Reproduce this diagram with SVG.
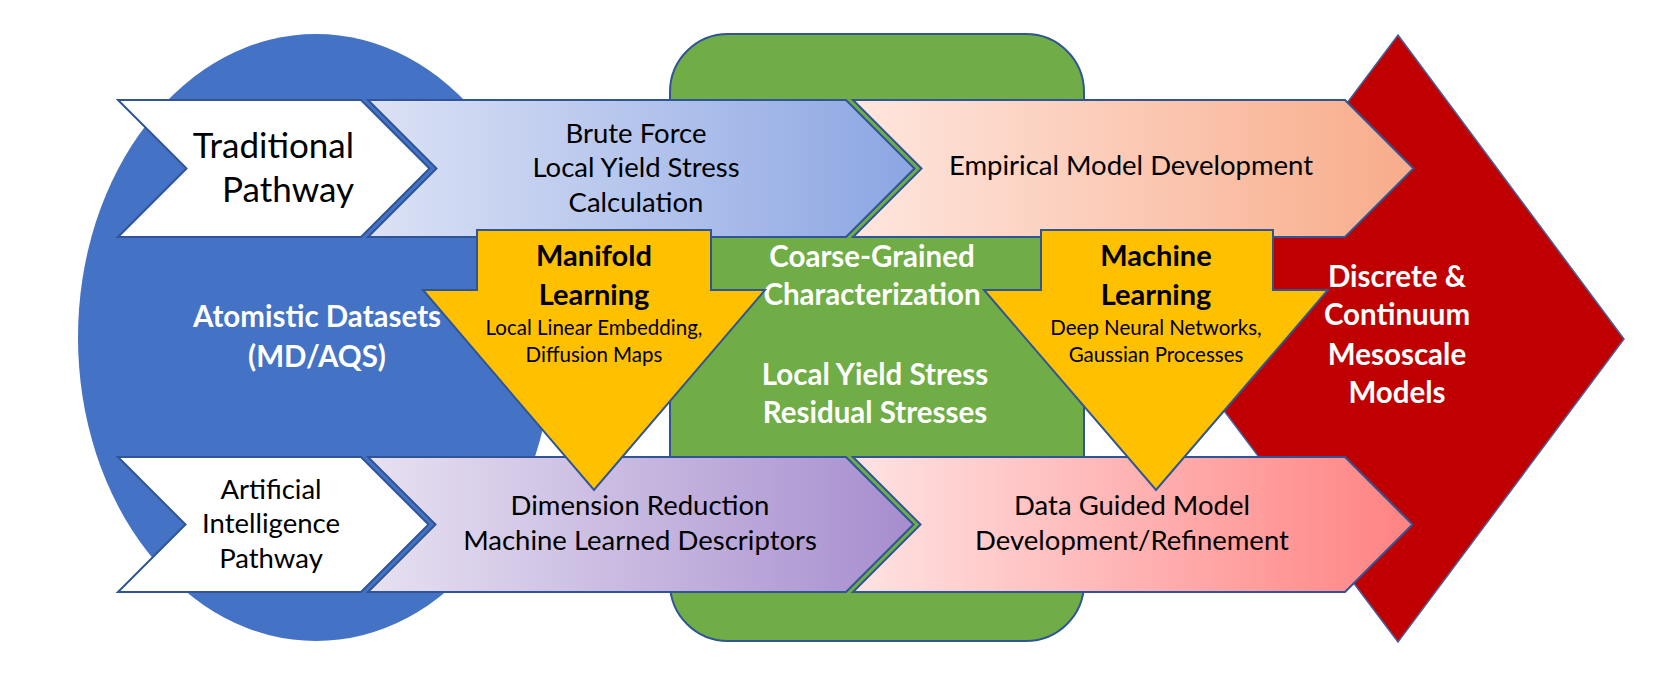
<svg xmlns="http://www.w3.org/2000/svg" width="1670" height="678" viewBox="0 0 1670 678">
<defs>
<linearGradient id="gTop2" x1="0" y1="0" x2="1" y2="0"><stop offset="0" stop-color="#DCE2F5"/><stop offset="1" stop-color="#8CA6E3"/></linearGradient>
<linearGradient id="gTop3" x1="0" y1="0" x2="1" y2="0"><stop offset="0" stop-color="#FEE6DE"/><stop offset="1" stop-color="#F8AC8A"/></linearGradient>
<linearGradient id="gBot2" x1="0" y1="0" x2="1" y2="0"><stop offset="0" stop-color="#E7E1F1"/><stop offset="1" stop-color="#A68DCE"/></linearGradient>
<linearGradient id="gBot3" x1="0" y1="0" x2="1" y2="0"><stop offset="0" stop-color="#FFE3E3"/><stop offset="1" stop-color="#FF8282"/></linearGradient>
</defs>
<style>
.edge{stroke:#2F5597;stroke-width:2;stroke-linejoin:miter}
.t{font-family:Lato,"Liberation Sans",sans-serif;text-anchor:middle;fill:#000}
.w{font-family:Lato,"Liberation Sans",sans-serif;text-anchor:middle;fill:#fff;font-weight:bold;font-size:29.5px}
.b{font-size:27.5px}
.h{font-weight:bold;font-size:29px}
.s{font-size:20.5px}
</style>
<rect width="1670" height="678" fill="#fff"/>
<g id="atomistic">
<ellipse cx="316" cy="337.5" rx="238" ry="303.5" fill="#4472C4"/>
<text class="w" x="317" y="327">Atomistic Datasets</text>
<text class="w" x="317" y="367">(MD/AQS)</text>
</g>
<g id="coarse-grained">
<rect x="670" y="34" width="414" height="607" rx="58" ry="58" fill="#70AD47" class="edge" stroke-width="1.5"/>
</g>
<g id="mesoscale">
<polygon points="1398,35 1624,339 1398,642 1170,339" fill="#C00000" stroke="#44649E" stroke-width="1.5"/>
</g>
<g id="traditional-pathway">
<polygon class="edge" fill="#fff" points="118,100 361,100 429.5,168.5 361,237 118,237 186.5,168.5"/>
<text class="t" style="text-anchor:end;font-size:35px" x="354" y="158">Traditional</text>
<text class="t" style="text-anchor:end;font-size:35px" x="354" y="202">Pathway</text>
</g>
<g id="brute-force">
<polygon class="edge" fill="url(#gTop2)" points="368,100 846,100 914.5,168.5 846,237 368,237 436.5,168.5"/>
<text class="t b" x="636" y="143">Brute Force</text>
<text class="t b" x="636" y="177">Local Yield Stress</text>
<text class="t b" x="636" y="212">Calculation</text>
</g>
<g id="empirical">
<polygon class="edge" fill="url(#gTop3)" points="853,100 1345,100 1413.5,168.5 1345,237 853,237 921.5,168.5"/>
<text class="t b" x="1131" y="175">Empirical Model Development</text>
</g>
<g id="ai-pathway">
<polygon class="edge" fill="#fff" points="118,457 361,457 428.5,524.5 361,592 118,592 185.5,524.5"/>
<text class="t b" x="271" y="499">Artificial</text>
<text class="t b" x="271" y="533">Intelligence</text>
<text class="t b" x="271" y="568">Pathway</text>
</g>
<g id="dimension-reduction">
<polygon class="edge" fill="url(#gBot2)" points="368,457 846,457 913.5,524.5 846,592 368,592 435.5,524.5"/>
<text class="t b" x="640" y="515">Dimension Reduction</text>
<text class="t b" x="640" y="550">Machine Learned Descriptors</text>
</g>
<g id="data-guided">
<polygon class="edge" fill="url(#gBot3)" points="853,457 1345,457 1412.5,524.5 1345,592 853,592 920.5,524.5"/>
<text class="t b" x="1132" y="515">Data Guided Model</text>
<text class="t b" x="1132" y="550">Development/Refinement</text>
</g>
<g id="coarse-grained-labels">
<text class="w" x="872" y="267">Coarse-Grained</text>
<text class="w" x="872" y="305">Characterization</text>
<text class="w" x="875" y="385">Local Yield Stress</text>
<text class="w" x="875" y="423">Residual Stresses</text>
</g>
<g id="mesoscale-labels">
<text class="w" x="1397" y="287">Discrete &amp;</text>
<text class="w" x="1397" y="325">Continuum</text>
<text class="w" x="1397" y="365">Mesoscale</text>
<text class="w" x="1397" y="403">Models</text>
</g>
<g id="manifold-learning">
<polygon class="edge" fill="#FFC000" points="477,230 711,230 711,290 765,290 594,490 423,290 477,290"/>
<text class="t h" x="594" y="266">Manifold</text>
<text class="t h" x="594" y="305">Learning</text>
<text class="t s" x="594" y="335">Local Linear Embedding,</text>
<text class="t s" x="594" y="362">Diffusion Maps</text>
</g>
<g id="machine-learning">
<polygon class="edge" fill="#FFC000" points="1041,230 1273,230 1273,290 1328,290 1156,490 984,290 1041,290"/>
<text class="t h" x="1156" y="266">Machine</text>
<text class="t h" x="1156" y="305">Learning</text>
<text class="t s" x="1156" y="335">Deep Neural Networks,</text>
<text class="t s" x="1156" y="362">Gaussian Processes</text>
</g>
<g id="connectors"/>
</svg>
